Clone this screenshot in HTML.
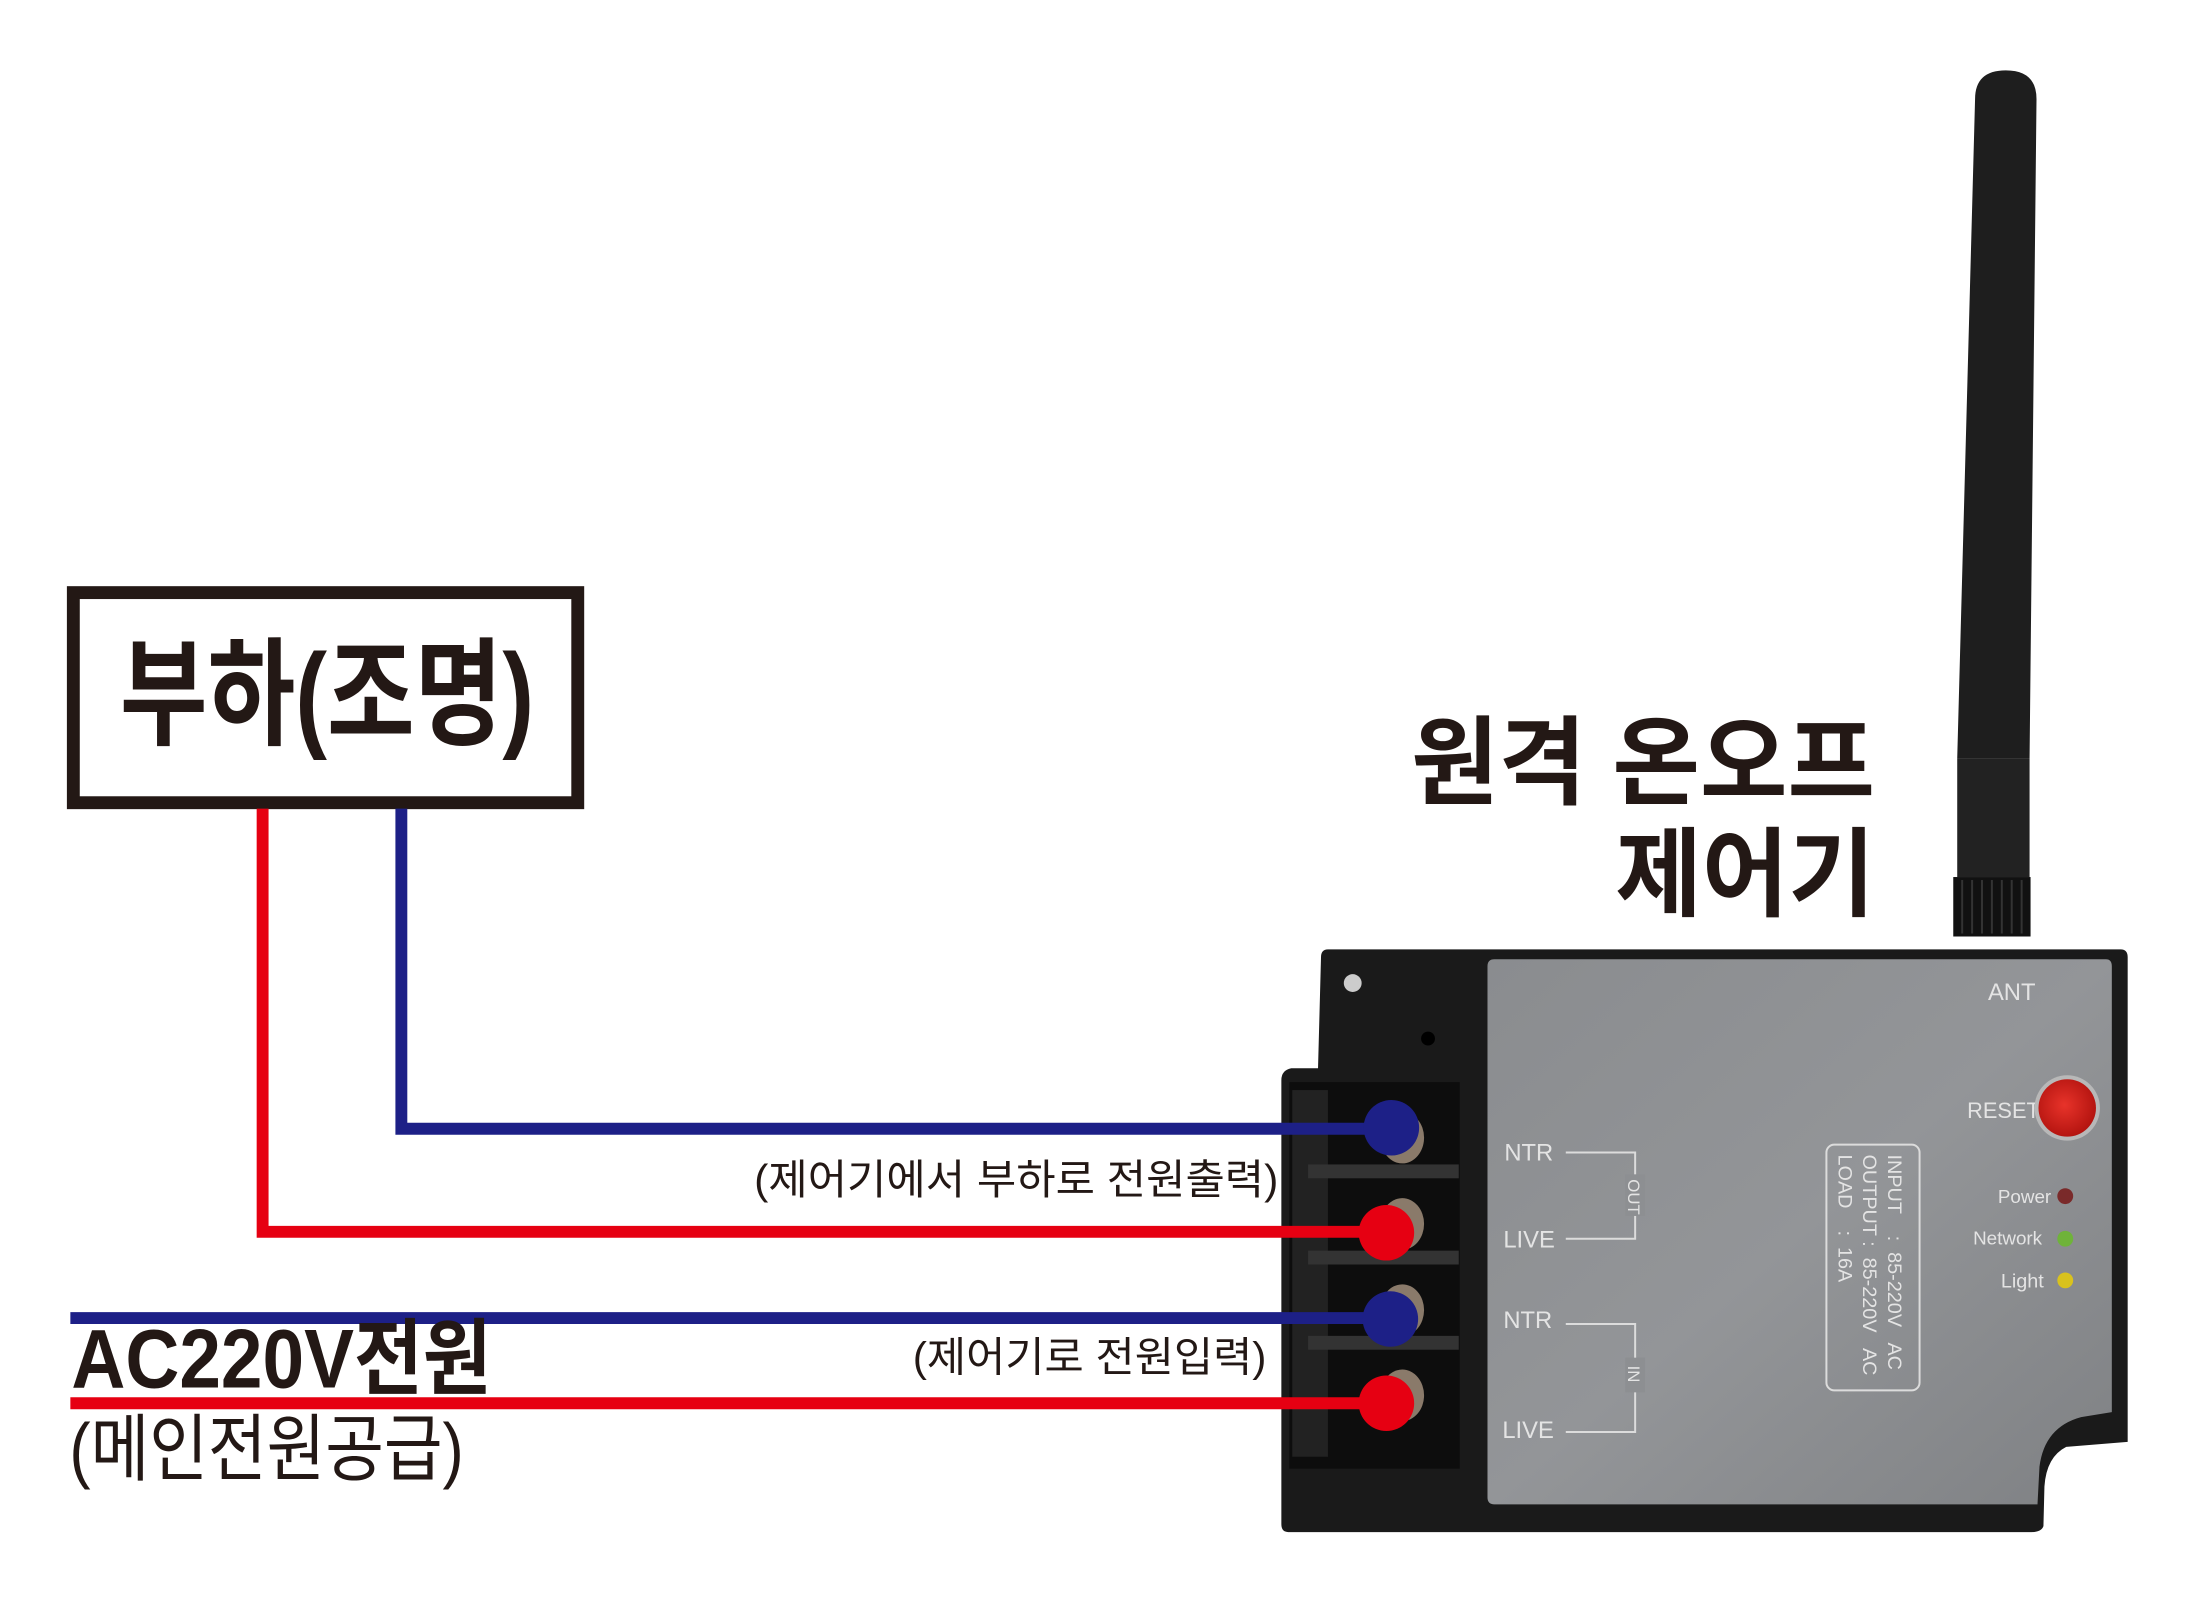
<!DOCTYPE html>
<html><head><meta charset="utf-8"><style>
html,body{margin:0;padding:0;background:#fff;}
svg{display:block;}
text{font-family:"Liberation Sans","Noto Sans CJK KR",sans-serif;}
</style></head><body>
<svg width="2199" height="1605" viewBox="0 0 2199 1605" xmlns="http://www.w3.org/2000/svg">
<defs>
<linearGradient id="pan" x1="0" y1="0" x2="1" y2="1">
<stop offset="0" stop-color="#8a8c8f"/><stop offset="0.5" stop-color="#939598"/><stop offset="1" stop-color="#7f8184"/>
</linearGradient>
<radialGradient id="btn" cx="0.45" cy="0.45" r="0.6"><stop offset="0" stop-color="#e8332a"/><stop offset="1" stop-color="#b0120e"/></radialGradient>
</defs>
<g transform="scale(0.991)">
<!-- load box -->
<rect x="74" y="598" width="509" height="212" fill="none" stroke="#231815" stroke-width="13"/>
<text x="330" y="742" font-size="118" font-weight="bold" fill="#231815" text-anchor="middle" textLength="418" lengthAdjust="spacingAndGlyphs">부하(조명)</text>

<!-- title -->
<text x="1892" y="804" font-size="98" font-weight="bold" fill="#231815" text-anchor="end" textLength="468" lengthAdjust="spacingAndGlyphs">원격 온오프</text>
<text x="1892" y="917" font-size="98" font-weight="bold" fill="#231815" text-anchor="end" textLength="262" lengthAdjust="spacingAndGlyphs">제어기</text>

<!-- antenna -->
<g transform="translate(18,0)">
<path d="M1975 100 Q1975 71 2006 71 Q2037 71 2037 100 L2030 765 L1957 765 Z" fill="#1e1e1e"/>
<rect x="1957" y="765" width="73" height="120" fill="#222"/>
<rect x="1953" y="885" width="78" height="60" fill="#111"/>
<g stroke="#333" stroke-width="2"><line x1="1962" y1="888" x2="1962" y2="942"/><line x1="1972" y1="888" x2="1972" y2="942"/><line x1="1982" y1="888" x2="1982" y2="942"/><line x1="1992" y1="888" x2="1992" y2="942"/><line x1="2002" y1="888" x2="2002" y2="942"/><line x1="2012" y1="888" x2="2012" y2="942"/><line x1="2022" y1="888" x2="2022" y2="942"/></g>
</g>

<!-- device body -->
<path d="M1340 958 L2140 958 Q2147 958 2147 966 L2147 1455 L2085 1460 Q2065 1470 2063 1500 L2062 1540 Q2060 1546 2050 1546 L1300 1546 Q1293 1546 1293 1538 L1293 1090 Q1293 1080 1303 1078 L1330 1078 L1333 966 Q1333 958 1340 958 Z" fill="#1a1a1a"/>
<circle cx="1365" cy="992" r="9" fill="#ccc"/>
<circle cx="1441" cy="1048" r="7" fill="#000"/>
<!-- terminal block -->
<rect x="1301" y="1092" width="172" height="390" fill="#0d0d0d"/>
<rect x="1304" y="1100" width="36" height="370" fill="#222"/>
<g fill="#333"><rect x="1320" y="1175" width="152" height="14"/><rect x="1320" y="1262" width="152" height="14"/><rect x="1320" y="1348" width="152" height="14"/></g>
<g fill="#8a7a6a"><ellipse cx="1415" cy="1148" rx="22" ry="26"/><ellipse cx="1415" cy="1235" rx="22" ry="26"/><ellipse cx="1415" cy="1322" rx="22" ry="26"/><ellipse cx="1415" cy="1408" rx="22" ry="26"/></g>

<!-- grey panel -->
<path d="M1508 968 L2125 968 Q2131 968 2131 975 L2131 1425 L2100 1430 Q2063 1440 2058 1480 L2056 1518 L1508 1518 Q1501 1518 1501 1511 L1501 975 Q1501 968 1508 968 Z" fill="url(#pan)"/>

<g fill="#e4e4e4" font-size="24">
<text x="1518" y="1171">NTR</text>
<text x="1517" y="1259">LIVE</text>
<text x="1517" y="1340">NTR</text>
<text x="1516" y="1451">LIVE</text>
<text x="2006" y="1009">ANT</text>
<text x="1985" y="1128" font-size="22">RESET</text>
<text x="2016" y="1214" font-size="19">Power</text>
<text x="1991" y="1256" font-size="19">Network</text>
<text x="2019" y="1299" font-size="20">Light</text>
</g>
<g stroke="#dcdcdc" stroke-width="2" fill="none">
<path d="M1580 1163 L1650 1163 L1650 1250 L1580 1250"/>
<path d="M1580 1336 L1650 1336 L1650 1445 L1580 1445"/>
<rect x="1843" y="1155" width="94" height="248" rx="8"/>
</g>
<rect x="1640" y="1185" width="20" height="42" fill="#8d8f92"/>
<rect x="1640" y="1370" width="20" height="35" fill="#8d8f92"/>
<text transform="translate(1643,1190) rotate(90)" font-size="17" fill="#e4e4e4">OUT</text>
<text transform="translate(1643,1378) rotate(90)" font-size="17" fill="#e4e4e4">IN</text>
<g font-size="20" fill="#e4e4e4">
<text transform="translate(1905,1165) rotate(90)" xml:space="preserve">INPUT    :  85-220V   AC</text>
<text transform="translate(1880,1165) rotate(90)" xml:space="preserve">OUTPUT :  85-220V   AC</text>
<text transform="translate(1855,1165) rotate(90)" xml:space="preserve">LOAD    :  16A</text>
</g>
<circle cx="2086" cy="1118" r="33" fill="#b8b8b8"/>
<circle cx="2086" cy="1118" r="29" fill="url(#btn)"/>
<circle cx="2084" cy="1207" r="8" fill="#7a2a2a"/>
<circle cx="2084" cy="1250" r="8" fill="#6fb33a"/>
<circle cx="2084" cy="1292" r="8" fill="#d9c21d"/>

<!-- wires -->
<g fill="none" stroke-width="12" stroke-linejoin="miter">
<path d="M405 816 L405 1139 L1404 1139" stroke="#1d2087"/>
<path d="M265 816 L265 1243 L1399 1243" stroke="#e60012"/>
<path d="M71 1330 L1403 1330" stroke="#1d2087"/>
<path d="M71 1416 L1399 1416" stroke="#e60012"/>
</g>
<circle cx="1404" cy="1138" r="28" fill="#1d2087"/>
<circle cx="1399" cy="1244" r="28" fill="#e60012"/>
<circle cx="1403" cy="1331" r="28" fill="#1d2087"/>
<circle cx="1399" cy="1416" r="28" fill="#e60012"/>

<!-- labels -->
<text x="761" y="1205" font-size="42" fill="#231815" textLength="529" lengthAdjust="spacingAndGlyphs">(제어기에서 부하로 전원출력)</text>
<text x="921" y="1384" font-size="42" fill="#231815" textLength="357" lengthAdjust="spacingAndGlyphs">(제어기로 전원입력)</text>
<text x="72" y="1400" font-size="84" font-weight="bold" fill="#231815" textLength="424" lengthAdjust="spacingAndGlyphs">AC220V전원</text>
<text x="70" y="1488" font-size="74" fill="#231815" textLength="398" lengthAdjust="spacingAndGlyphs">(메인전원공급)</text>
</g>
</svg>
</body></html>
